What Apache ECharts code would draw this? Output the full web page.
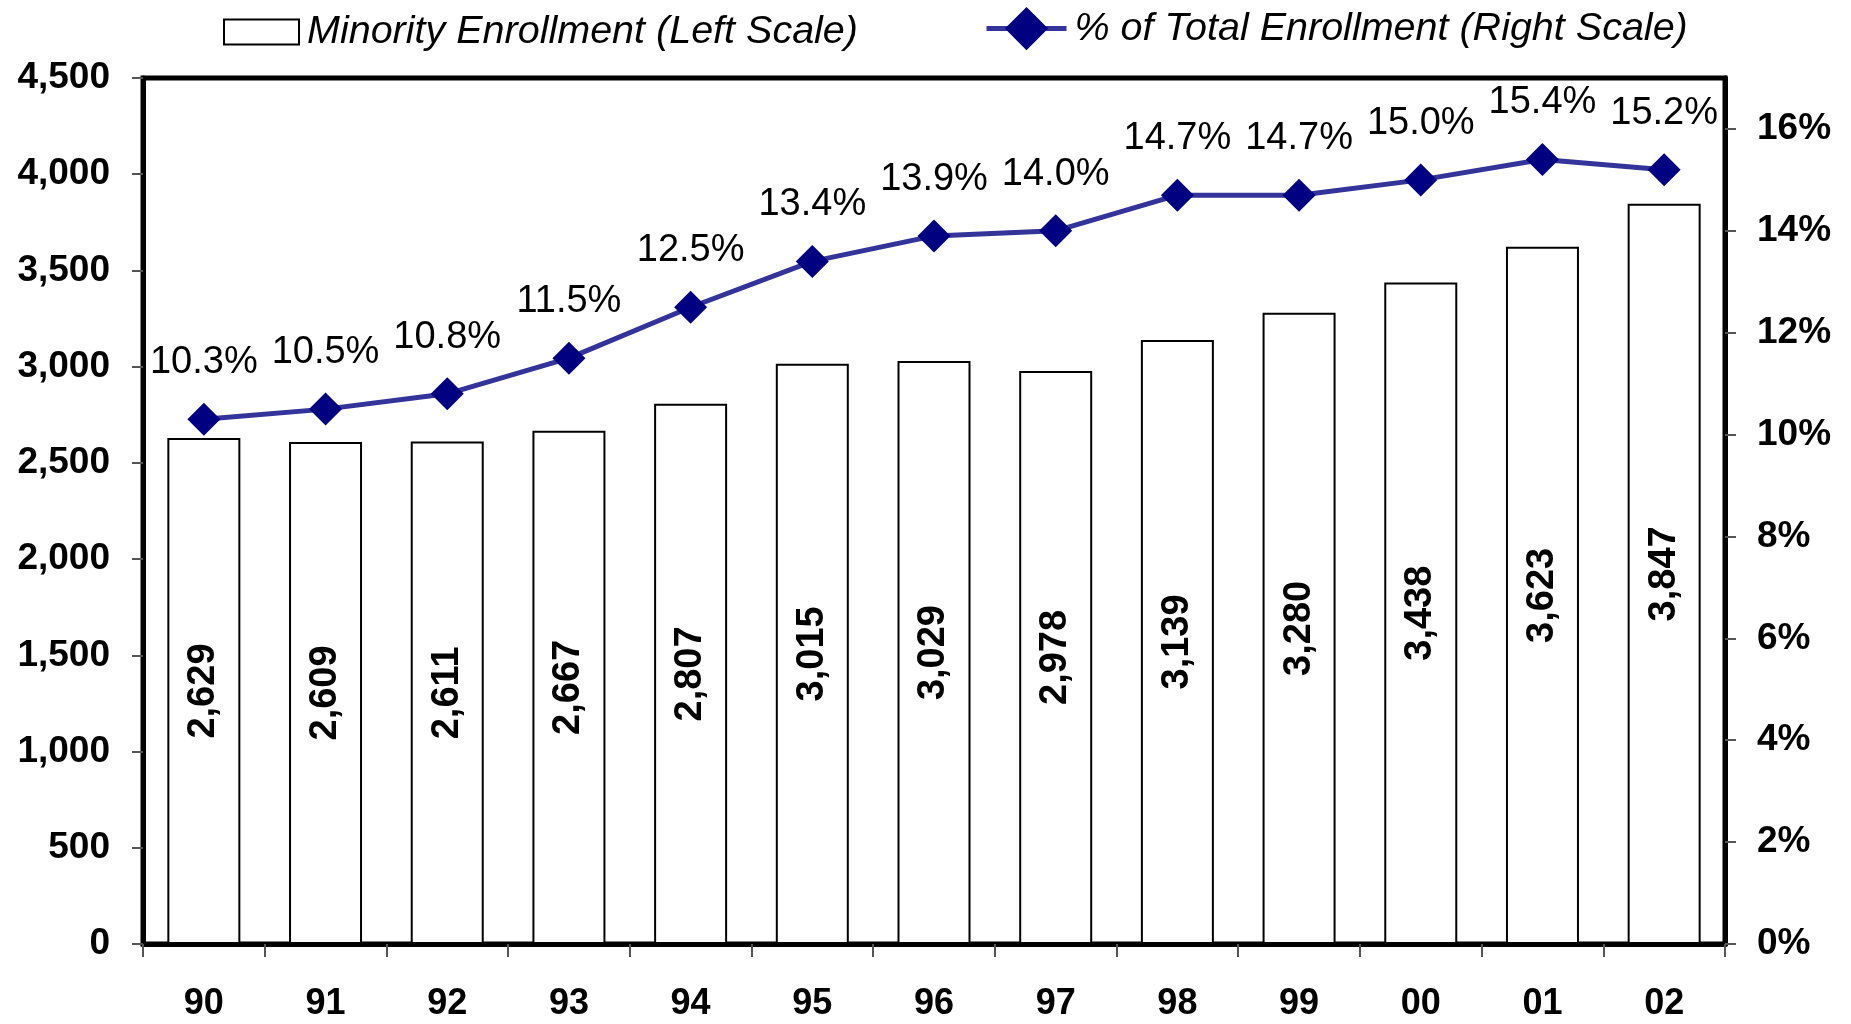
<!DOCTYPE html>
<html>
<head>
<meta charset="utf-8">
<script src="https://cdn.jsdelivr.net/npm/echarts@6/dist/echarts.min.js"></script>
<style>
  html, body { margin: 0; padding: 0; background: #fff; }
  #chart { width: 1851px; height: 1024px; }
</style>
</head>
<body>
<div id="chart"></div>
<script>
var years = ['90','91','92','93','94','95','96','97','98','99','00','01','02'];
var enrollment = [2629, 2609, 2611, 2667, 2807, 3015, 3029, 2978, 3139, 3280, 3438, 3623, 3847];
var pctOfTotal = [10.3, 10.5, 10.8, 11.5, 12.5, 13.4, 13.9, 14.0, 14.7, 14.7, 15.0, 15.4, 15.2];

var barName = 'Minority Enrollment (Left Scale)';
var lineName = '% of Total Enrollment (Right Scale)';
var font = 'Liberation Sans, Arial, sans-serif';

function commas(v) {
    return String(v).replace(/\B(?=(\d{3})+(?!\d))/g, ',');
}

var chart = echarts.init(document.getElementById('chart'));

var legendText = { fontFamily: font, fontSize: 39.5, fontStyle: 'italic', color: '#000', padding: [0, 0, 0, 3] };

var option = {
    backgroundColor: '#fff',
    animation: false,
    textStyle: { fontFamily: font },
    legend: [{
        data: [{ name: barName, icon: 'rect' }],
        left: 218,
        top: 7,
        itemWidth: 75,
        itemHeight: 25,
        itemStyle: { color: '#fff', borderColor: '#000', borderWidth: 2 },
        textStyle: legendText
    }, {
        data: [lineName],
        left: 979,
        top: 2,
        itemWidth: 80,
        itemHeight: 54,
        lineStyle: { width: 5, color: '#333399' },
        textStyle: legendText
    }],
    grid: {
        left: 143,
        right: 126,
        top: 78,
        bottom: 80,
        show: true,
        borderColor: '#000',
        borderWidth: 5,
        backgroundColor: '#fff'
    },
    xAxis: {
        type: 'category',
        data: years,
        axisLine: { lineStyle: { color: '#000', width: 5 } },
        axisTick: { show: true, length: 13, lineStyle: { color: '#555', width: 2 } },
        axisLabel: { margin: 42, fontSize: 36, fontWeight: 'bold', color: '#000', fontFamily: font }
    },
    yAxis: [{
        type: 'value',
        min: 0,
        max: 4500,
        interval: 500,
        splitLine: { show: false },
        axisLine: { show: true, lineStyle: { color: '#000', width: 5 } },
        axisTick: { show: true, length: 11, lineStyle: { color: '#555', width: 2 } },
        axisLabel: {
            margin: 33,
            fontSize: 37,
            fontWeight: 'bold',
            color: '#000',
            fontFamily: font,
            formatter: function (v) { return commas(v); }
        }
    }, {
        type: 'value',
        min: 0,
        max: 17,
        interval: 2,
        position: 'right',
        splitLine: { show: false },
        axisLine: { show: true, lineStyle: { color: '#000', width: 5 } },
        axisTick: { show: true, length: 11, lineStyle: { color: '#555', width: 2 } },
        axisLabel: {
            margin: 32,
            fontSize: 37,
            fontWeight: 'bold',
            color: '#000',
            fontFamily: font,
            showMaxLabel: false,
            formatter: function (v) { return v > 16 ? '' : v + '%'; }
        }
    }],
    series: [{
        name: barName,
        type: 'bar',
        data: enrollment,
        barWidth: 73,
        itemStyle: { color: '#fff', borderColor: '#000', borderWidth: 2 },
        label: {
            show: true,
            position: 'inside',
            rotate: 90,
            fontSize: 38,
            fontWeight: 'bold',
            color: '#000',
            fontFamily: font,
            formatter: function (p) { return commas(p.value); }
        }
    }, {
        name: lineName,
        type: 'line',
        yAxisIndex: 1,
        data: pctOfTotal,
        symbol: 'diamond',
        symbolSize: 33,
        lineStyle: { color: '#333399', width: 5 },
        itemStyle: { color: '#000080' },
        label: {
            show: true,
            position: 'top',
            distance: 21,
            fontSize: 38,
            color: '#000',
            fontFamily: font,
            formatter: function (p) { return p.value.toFixed(1) + '%'; }
        }
    }]
};

chart.setOption(option);
</script>
</body>
</html>
